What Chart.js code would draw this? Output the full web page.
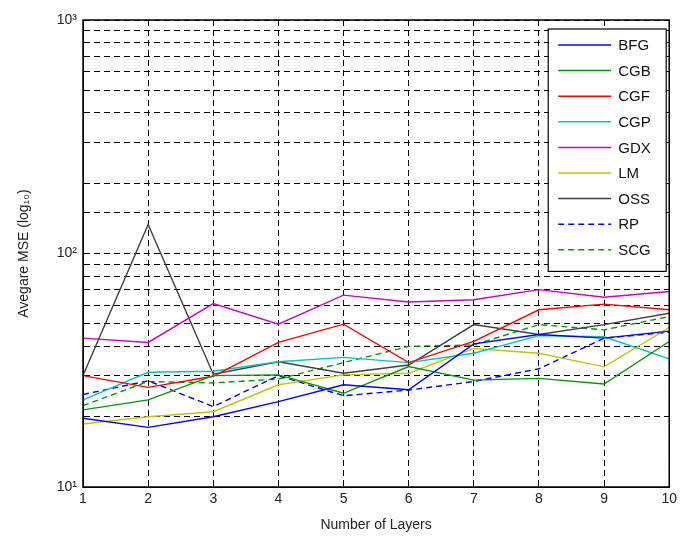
<!DOCTYPE html>
<html>
<head>
<meta charset="utf-8">
<script src="https://cdn.jsdelivr.net/npm/chart.js@4.4.1/dist/chart.umd.min.js"></script>
<style>
  html, body { margin: 0; padding: 0; background: #fff; }
  #wrap { width: 681px; height: 538px; }
</style>
</head>
<body>
<div id="wrap"><canvas id="mse-chart" width="681" height="538"></canvas></div>
<script>
// ---- Data ----
const layers = [1, 2, 3, 4, 5, 6, 7, 8, 9, 10];
const yTickPowers = [1, 2, 3];   // 10^1 .. 10^3

const bfg = [19.7, 18.0, 20.0, 23.2, 27.4, 26.1, 41.0, 45.0, 43.4, 46.5];
const cgb = [21.4, 23.6, 30.0, 30.2, 25.2, 32.8, 28.7, 29.2, 27.6, 42.0];
const cgf = [30.0, 26.7, 29.8, 41.6, 49.8, 34.1, 42.0, 57.4, 60.7, 57.4];
const cgp = [23.6, 31.0, 31.3, 34.4, 35.9, 34.1, 37.4, 44.5, 44.0, 35.4];
const gdx = [43.4, 41.6, 61.0, 49.8, 66.3, 62.0, 63.4, 70.0, 65.0, 68.7];
const lm  = [18.6, 20.0, 21.0, 27.4, 30.2, 30.7, 39.2, 37.4, 32.7, 48.2];
const oss = [30.0, 133.0, 30.4, 34.4, 30.7, 33.3, 49.6, 45.0, 49.6, 55.5];
const rp  = [24.9, 28.5, 22.1, 30.0, 24.6, 26.0, 28.3, 32.1, 43.4, 46.0];
const scg = [22.3, 28.3, 27.9, 29.0, 34.1, 40.0, 40.6, 49.6, 47.1, 53.7];

const SERIES = [
  { label: 'BFG', data: bfg, color: '#0000ff', dash: [] },
  { label: 'CGB', data: cgb, color: '#009900', dash: [] },
  { label: 'CGF', data: cgf, color: '#ff0000', dash: [] },
  { label: 'CGP', data: cgp, color: '#00c4c4', dash: [] },
  { label: 'GDX', data: gdx, color: '#cc00cc', dash: [] },
  { label: 'LM',  data: lm,  color: '#c4c400', dash: [] },
  { label: 'OSS', data: oss, color: '#404040', dash: [] },
  { label: 'RP',  data: rp,  color: '#0000ff', dash: [6, 4] },
  { label: 'SCG', data: scg, color: '#009900', dash: [6, 4] },
];

const FONT = '"Liberation Sans", Arial, sans-serif';
const SUP = { 1: '\u00b9', 2: '\u00b2', 3: '\u00b3' };

// ---- Frame + boxed legend (MATLAB look) ----
const matlabDecor = {
  id: 'matlabDecor',
  afterDraw(chart) {
    const { ctx, chartArea: a } = chart;
    ctx.save();
    ctx.setLineDash([]);
    ctx.strokeStyle = '#000';
    ctx.lineWidth = 1.5;
    ctx.strokeRect(a.left, a.top, a.right - a.left, a.bottom - a.top);

    // legend box
    const w = 118, rowH = 25.6;
    const h = 16 + rowH * chart.data.datasets.length - 4;
    const x0 = a.right - w - 3, y0 = a.top + 9;
    ctx.fillStyle = '#fff';
    ctx.fillRect(x0, y0, w, h);
    ctx.lineWidth = 1.2;
    ctx.strokeRect(x0, y0, w, h);
    ctx.font = `15px ${FONT}`;
    ctx.textBaseline = 'middle';
    chart.data.datasets.forEach((ds, i) => {
      const y = y0 + 16 + i * rowH;
      ctx.strokeStyle = ds.borderColor;
      ctx.lineWidth = 1.5;
      ctx.setLineDash(ds.borderDash || []);
      ctx.beginPath();
      ctx.moveTo(x0 + 10, y);
      ctx.lineTo(x0 + 63, y);
      ctx.stroke();
      ctx.fillStyle = '#111';
      ctx.fillText(ds.label, x0 + 70, y + 1);
    });
    ctx.restore();
  }
};

new Chart(document.getElementById('mse-chart'), {
  type: 'line',
  data: {
    datasets: SERIES.map(s => ({
      label: s.label,
      data: s.data.map((v, i) => ({ x: layers[i], y: v })),
      borderColor: s.color,
      backgroundColor: s.color,
      borderDash: s.dash,
      borderWidth: 1.4,
      pointRadius: 0,
      tension: 0,
      fill: false,
    }))
  },
  options: {
    responsive: false,
    animation: false,
    layout: { padding: { left: 12, right: 10, top: 20, bottom: 0 } },
    plugins: {
      legend: { display: false },
      tooltip: { enabled: false },
    },
    scales: {
      x: {
        type: 'linear',
        min: layers[0],
        max: layers[layers.length - 1],
        afterFit: s => { s.height = 51; },
        ticks: { stepSize: 1, color: '#222', font: { family: FONT, size: 14 }, padding: 4 },
        grid: { color: '#000', lineWidth: 1, drawTicks: false },
        border: { dash: [6, 4], color: '#000' },
        title: { display: true, text: 'Number of Layers', color: '#222', font: { family: FONT, size: 14 }, padding: { top: 1 } },
      },
      y: {
        type: 'logarithmic',
        min: 10,
        max: 1000,
        afterFit: s => { s.width = 71; },
        ticks: {
          autoSkip: false,
          color: '#222',
          font: { family: FONT, size: 14 },
          padding: 6,
          callback: v => {
            const p = Math.round(Math.log10(v));
            return (Math.abs(Math.log10(v) - p) < 1e-9 && yTickPowers.includes(p)) ? '10' + SUP[p] : '';
          }
        },
        grid: { color: '#000', lineWidth: 1, drawTicks: false },
        border: { dash: [6, 4], color: '#000' },
        title: { display: true, text: 'Avegare MSE (log\u2081\u2080)', color: '#222', font: { family: FONT, size: 14 }, padding: { bottom: 8 } },
      }
    }
  },
  plugins: [matlabDecor]
});
</script>
</body>
</html>
